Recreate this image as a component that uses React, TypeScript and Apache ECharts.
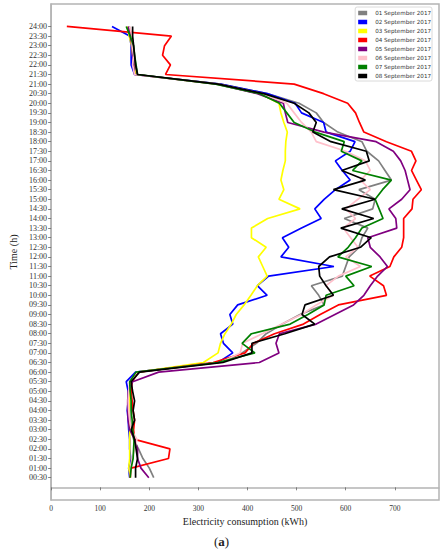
import React, { useEffect, useRef } from "react";
import * as echarts from "echarts";

const timeLabels = [
  "00:30", "01:00", "01:30", "02:00", "02:30", "03:00", "03:30", "04:00",
  "04:30", "05:00", "05:30", "06:00", "06:30", "07:00", "07:30", "08:00",
  "08:30", "09:00", "09:30", "10:00", "10:30", "11:00", "11:30", "12:00",
  "12:30", "13:00", "13:30", "14:00", "14:30", "15:00", "15:30", "16:00",
  "16:30", "17:00", "17:30", "18:00", "18:30", "19:00", "19:30", "20:00",
  "20:30", "21:00", "21:30", "22:00", "22:30", "23:00", "23:30", "24:00",
];

const xTicks = [0, 100, 200, 300, 400, 500, 600, 700];

const seriesNames = [
  "01 September 2017", "02 September 2017", "03 September 2017", "04 September 2017",
  "05 September 2017", "06 September 2017", "07 September 2017", "08 September 2017",
];

const sep01 = [
  209, 200, 187, 178, 168, 163, 161, 160, 160, 160, 162, 175,
  345, 389, 418, 438, 471, 507, 556, 545, 530, 593, 600, 607,
  627, 633, 645, 597, 655, 660, 627, 693, 680, 667, 643, 633,
  584, 555, 540, 505, 440, 345, 173, 170, 168, 166, 163, 159,
];
const sep02 = [
  160, 158, 162, 160, 160, 158, 157, 155, 157, 157, 153, 172,
  340, 370, 351, 345, 370, 364, 380, 440, 420, 443, 576, 468,
  484, 471, 510, 550, 537, 556, 579, 609, 593, 579, 609, 619,
  560, 555, 510, 497, 440, 345, 170, 163, 163, 163, 160, 124,
];
const sep03 = [
  162, 158, 160, 160, 160, 160, 159, 159, 160, 160, 161, 178,
  310, 340, 345, 354, 367, 377, 393, 407, 420, 440, 431, 422,
  438, 408, 408, 441, 507, 464, 474, 468, 472, 477, 477, 478,
  481, 474, 468, 464, 425, 338, 172, 168, 166, 164, 159, 155,
];
const sep04 = [
  161, 163, 239, 242, 170, 168, 170, 167, 165, 163, 165, 178,
  330, 395, 412, 455, 514, 548, 585, 683, 677, 649, 690, 698,
  714, 718, 718, 718, 735, 737, 754, 744, 734, 743, 734, 683,
  637, 628, 620, 604, 555, 495, 233, 243, 227, 231, 245, 32,
];
const sep05 = [
  199, 183, 176, 176, 170, 160, 157, 156, 156, 157, 166, 219,
  424, 464, 458, 465, 540, 578, 616, 637, 650, 665, 685, 670,
  650, 645, 704, 702, 688, 714, 731, 726, 721, 712, 697, 662,
  556, 482, 477, 473, 420, 338, 170, 168, 166, 165, 161, 157,
];
const sep06 = [
  162, 162, 165, 170, 175, 163, 160, 158, 157, 158, 160, 175,
  345, 385, 390, 430, 470, 510, 540, 575, 560, 585, 630, 600,
  625, 610, 595, 620, 600, 625, 650, 630, 650, 640, 600, 540,
  530, 510, 495, 480, 430, 340, 170, 166, 168, 165, 165, 160,
];
const sep07 = [
  161, 163, 167, 168, 169, 166, 165, 163, 163, 161, 160, 173,
  340, 415, 389, 408, 487, 523, 556, 560, 617, 600, 653, 584,
  605, 620, 633, 676, 668, 660, 675, 693, 614, 633, 591, 597,
  538, 495, 480, 465, 425, 335, 176, 173, 170, 168, 161, 153,
];
const sep08 = [
  172, 172, 176, 173, 170, 163, 170, 167, 170, 166, 163, 180,
  350, 409, 409, 476, 537, 511, 517, 575, 560, 547, 545, 567,
  630, 652, 590, 657, 592, 660, 575, 640, 592, 648, 642, 570,
  533, 540, 525, 495, 433, 341, 176, 172, 170, 168, 166, 166,
];

const allSeries = [sep01, sep02, sep03, sep04, sep05, sep06, sep07, sep08];
const colors = ["#808080", "#0000ff", "#ffff00", "#ff0000", "#800080", "#ffc0cb", "#008000", "#000000"];

const SERIF = "'Liberation Serif', 'DejaVu Serif', serif";

export default function App() {
  const ref = useRef<HTMLDivElement>(null);
  useEffect(() => {
    if (!ref.current) return;
    const chart = echarts.init(ref.current, null, { renderer: "svg" });
    const hours = timeLabels.map((t) => {
      const [h, m] = t.split(":").map(Number);
      return h + m / 60;
    });
    const labelFor = (v: number) => {
      const i = hours.findIndex((h) => Math.abs(h - v) < 1e-6);
      return i >= 0 ? timeLabels[i] : "";
    };
    chart.setOption({
      animation: false,
      backgroundColor: "#ffffff",
      grid: {
        left: 38,
        top: 4,
        width: 401,
        height: 496,
        show: true,
        borderColor: "#b4b4b4",
        borderWidth: 1.5,
        containLabel: false,
      },
      legend: {
        orient: "vertical",
        right: 10,
        top: 7,
        itemWidth: 9,
        itemHeight: 4.5,
        itemGap: 3,
        icon: "rect",
        padding: [3, 1, 2, 3],
        backgroundColor: "#ffffff",
        borderColor: "#d0d0d0",
        borderWidth: 0.8,
        borderRadius: 2,
        textStyle: {
          fontFamily: "'DejaVu Sans', sans-serif",
          fontSize: 5.6,
          color: "#333333",
          padding: [0, 0, 0, 3],
        },
        data: seriesNames,
      },
      xAxis: {
        type: "value",
        min: 0,
        max: 790,
        splitLine: { show: false },
        axisLine: { show: true, lineStyle: { color: "#b4b4b4", width: 1.5 } },
        axisTick: { show: true, length: 3, customValues: xTicks, lineStyle: { color: "#666666", width: 0.8 } },
        axisLabel: {
          customValues: xTicks,
          fontFamily: SERIF,
          fontSize: 7.5,
          color: "#333333",
          margin: 4,
        },
        name: "Electricity consumption (kWh)",
        nameLocation: "middle",
        nameGap: 10,
        nameTextStyle: { fontFamily: SERIF, fontSize: 10, color: "#222222" },
      },
      yAxis: {
        type: "value",
        min: -0.66,
        max: 25.17,
        splitLine: { show: false },
        axisLine: { show: true, lineStyle: { color: "#b4b4b4", width: 1.5 } },
        axisTick: { show: true, length: 3, customValues: hours, lineStyle: { color: "#666666", width: 0.8 } },
        axisLabel: {
          customValues: hours,
          formatter: (v: number) => labelFor(v),
          fontFamily: SERIF,
          fontSize: 8,
          color: "#333333",
          margin: 4,
        },
        name: "Time (h)",
        nameLocation: "middle",
        nameGap: 25,
        nameRotate: 90,
        nameTextStyle: { fontFamily: SERIF, fontSize: 10, color: "#222222" },
      },
      graphic: [
        {
          type: "text",
          left: 214,
          top: 535,
          style: {
            text: "({b|a})",
            font: "13px 'Liberation Serif', serif",
            fill: "#222222",
            rich: { b: { fontWeight: "bold", fontSize: 13, fontFamily: SERIF, fill: "#222222" } },
          },
        },
      ],
      series: allSeries.map((vals, k) => ({
        name: seriesNames[k],
        type: "line",
        showSymbol: false,
        symbol: "none",
        color: colors[k],
        lineStyle: { color: colors[k], width: 1.7 },
        data: vals.map((v, i) => [v, hours[i]]),
        z: 2 + k,
      })),
    });
    return () => chart.dispose();
  }, []);
  return (
    <div
      ref={ref}
      style={{ position: "absolute", left: 0, top: 0, width: 442, height: 550, background: "#ffffff" }}
    />
  );
}
